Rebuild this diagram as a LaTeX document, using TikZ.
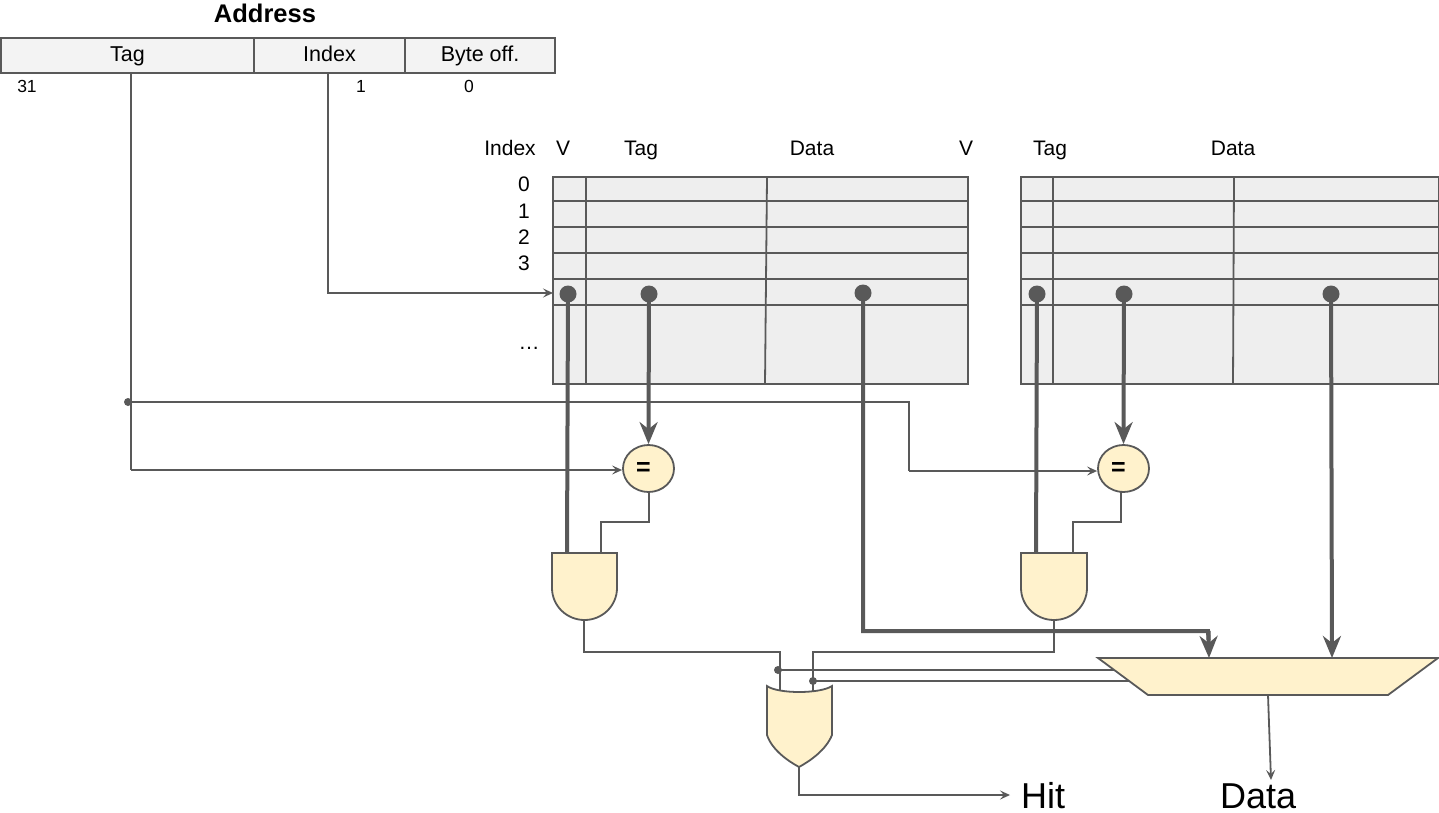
\documentclass[tikz,border=0pt]{standalone}
\usepackage{fontspec}
\setmainfont{Liberation Sans}
\usetikzlibrary{arrows.meta,shapes.geometric}
\definecolor{ln}{HTML}{595959}
\definecolor{yel}{HTML}{FFF2CC}
\definecolor{cellg}{HTML}{EEEEEE}
\definecolor{addrg}{HTML}{F3F3F3}
\tikzset{
  x=1pt,y=-1pt,
  wire/.style={draw=ln,line width=1.8pt,line join=miter},
  thinarrow/.style={wire,-{Stealth[length=10pt,width=9pt,inset=4pt]}},
  bus/.style={draw=ln,line width=4pt},
  busarrow/.style={bus,-{Stealth[length=22pt,width=18pt,inset=7pt]}},
  grid/.style={draw=ln,line width=1.8pt},
  gate/.style={draw=ln,line width=1.8pt,fill=yel},
  addr/.style={draw=ln,line width=1.8pt,fill=addrg,minimum height=35pt,inner sep=0pt,text height=17pt,text depth=4pt,font=\fontsize{21.5}{24}\selectfont},
  cmp/.style={draw=ln,line width=1.8pt,fill=yel,ellipse,minimum width=51pt,minimum height=47pt,inner sep=0pt,font=\bfseries\fontsize{25}{28}\selectfont},
  dotbig/.style={circle,fill=ln,minimum size=17pt,inner sep=0pt},
  dotsmall/.style={circle,fill=ln,minimum size=8pt,inner sep=0pt},
  lab/.style={anchor=base,inner sep=0pt,font=\fontsize{21}{24}\selectfont},
  small/.style={anchor=base,inner sep=0pt,font=\fontsize{17.5}{20}\selectfont},
  big/.style={anchor=base west,inner sep=0pt,font=\fontsize{36}{40}\selectfont},
}
\begin{document}
\begin{tikzpicture}
\useasboundingbox (0,0) rectangle (1439,813);
% Address
\node[anchor=base,inner sep=0pt,font=\bfseries\fontsize{25.5}{30}\selectfont] (addrtitle) at (265,23) {Address};
\node[addr,minimum width=253pt] (atag) at (127.5,55.5) {Tag};
\node[addr,minimum width=151pt] (aindex) at (329.5,55.5) {Index};
\node[addr,minimum width=150pt] (aoff) at (480,55.5) {Byte off.};
\node[small] (n31) at (27,93) {31};
\node[small] (n1) at (361,93) {1};
\node[small] (n0) at (469,93) {0};
% header labels
\node[lab] (hidx) at (510,155.5) {Index};
\node[lab] (hv1) at (563,155.5) {V};
\node[lab] (ht1) at (641,155.5) {Tag};
\node[lab] (hd1) at (812,155.5) {Data};
\node[lab] (hv2) at (966,155.5) {V};
\node[lab] (ht2) at (1050,155.5) {Tag};
\node[lab] (hd2) at (1233,155.5) {Data};
\node[lab] (i0) at (524,192) {0};
\node[lab] (i1) at (524,218) {1};
\node[lab] (i2) at (524,244) {2};
\node[lab] (i3) at (524,270) {3};
\node[lab] (idots) at (529,349) {…};
% Way 1
\fill[cellg] (553,177) rectangle (968,384);
\draw[grid] (586,177) -- (586,384);
\draw[grid] (767,177) -- (765,384);
\draw[grid] (553,201) -- (969,201);
\draw[grid] (553,227) -- (969,227);
\draw[grid] (553,253) -- (969,253);
\draw[grid] (553,279) -- (969,279);
\draw[grid] (553,305) -- (969,305);
\draw[grid] (553,177) rectangle (968,384);
% Way 2
\fill[cellg] (1021,177) rectangle (1439,384);
\draw[grid] (1053,177) -- (1053,384);
\draw[grid] (1234,177) -- (1233,384);
\draw[grid] (1021,201) -- (1439,201);
\draw[grid] (1021,227) -- (1439,227);
\draw[grid] (1021,253) -- (1439,253);
\draw[grid] (1021,279) -- (1439,279);
\draw[grid] (1021,305) -- (1439,305);
\draw[grid] (1021,177) rectangle (1438.5,384);
% named points
\coordinate (tagdrop) at (131,73);
\coordinate (idxdrop) at (328,73);
\coordinate (and1a) at (567,553);
\coordinate (and1b) at (601,553);
\coordinate (and1o) at (584,620);
\coordinate (and2a) at (1036,553);
\coordinate (and2b) at (1073,553);
\coordinate (and2o) at (1054,620);
\coordinate (ora) at (780,695);
\coordinate (orb) at (813,695);
\coordinate (oro) at (799,767);
\coordinate (muxa) at (1209,658);
\coordinate (muxb) at (1332,658);
\coordinate (muxo) at (1268,695);
\coordinate (muxs1) at (1125,670);
\coordinate (muxs2) at (1135,681);
\coordinate (cachein) at (553,293);
% comparators
\node[cmp] (eq1) at (648.5,468.5) {=\kern10pt};
\node[cmp] (eq2) at (1123.5,468.5) {=\kern10pt};
% dots
\node[dotbig] (d1v) at (568,294) {};
\node[dotbig] (d1t) at (649,294) {};
\node[dotbig] (d1d) at (863,293) {};
\node[dotbig] (d2v) at (1037,294) {};
\node[dotbig] (d2t) at (1124,294) {};
\node[dotbig] (d2d) at (1331,294) {};
\node[dotsmall] (jtag) at (128,402) {};
\node[dotsmall] (js1) at (778,670) {};
\node[dotsmall] (js2) at (813,681) {};
% thin wires
\draw[wire] (jtag.center) -- (909,402) -- (909,471) coordinate (tt);
\draw[wire] (tagdrop) -- (131,470);
\draw[thinarrow] (131,470) -- (eq1.west |- 0,470);
\draw[thinarrow] (tt) -- (eq2.west |- tt);
\draw[thinarrow] (idxdrop) |- (cachein);
\draw[wire] (649,492) -- (649,522) -| (and1b);
\draw[wire] (1121,491) -- (1121,522) -| (and2b);
\draw[wire] (and1o) -- (584,652) -| (ora);
\draw[wire] (and2o) -- (1054,652) -| (orb);
\draw[wire] (js1.center) -- (muxs1);
\draw[wire] (js2.center) -- (muxs2);
% buses
\draw[bus] (d1v.center) -- (and1a);
\draw[busarrow] (d1t.center) -- (eq1.north);
\draw[bus] (d2v.center) -- (and2a);
\draw[busarrow] (d2t.center) -- (eq2.north);
\draw[bus] (d1d.center) -- (863,631) -- (1208,631) -- (1208.5,640);
\draw[busarrow] (1208.5,631) -- (muxa);
\draw[busarrow] (d2d.center) -- (muxb);
% gates
\draw[gate] (552,553) -- (617,553) -- (617,588) arc[start angle=0,end angle=180,x radius=32.5,y radius=32] -- cycle;
\draw[gate] (1021,553) -- (1087,553) -- (1087,588) arc[start angle=0,end angle=180,x radius=33,y radius=32] -- cycle;
\draw[gate] (767,686) .. controls (778,694) and (820,694) .. (832,686) -- (832,735) .. controls (826,750) and (810,761) .. (oro) .. controls (788,761) and (772,750) .. (767,735) -- cycle;
\draw[gate,line join=miter] (1098,658) -- (1438,658) -- (1388,695) -- (1148,695) -- cycle;
% outputs
\draw[thinarrow] (oro) |- (1010,795) coordinate (hitend);
\draw[thinarrow] (muxo) -- (1271,780) coordinate (dataend);
\node[big] (hit) at (1021,808.5) {Hit};
\node[big] (dat) at (1220,808.5) {Data};
\end{tikzpicture}
\end{document}
